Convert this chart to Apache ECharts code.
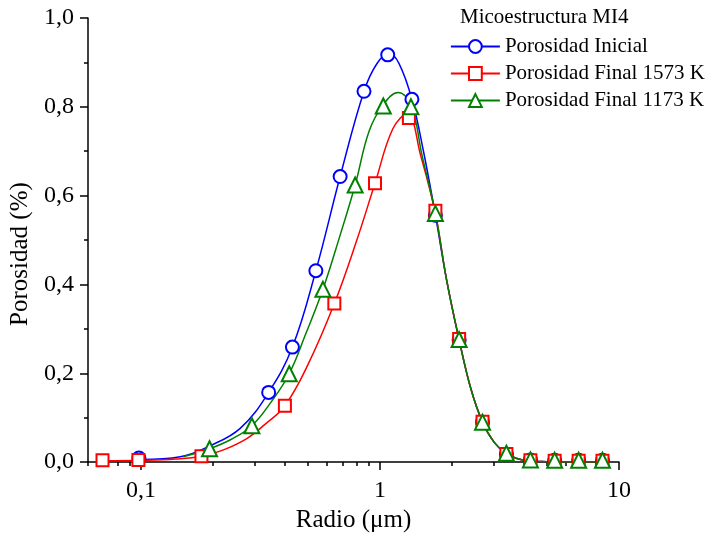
<!DOCTYPE html>
<html>
<head>
<meta charset="utf-8">
<script src="https://cdn.jsdelivr.net/npm/echarts@6/dist/echarts.min.js"></script>
<style>html,body{margin:0;padding:0;background:#fff;}#c{width:718px;height:538px;}</style>
</head>
<body>
<div id="c"></div>
<script>
// ---- data ----
const seriesNames = ['Porosidad Inicial', 'Porosidad Final 1573 K', 'Porosidad Final 1173 K'];
const legendTitle = 'Micoestructura MI4';

// measured points (markers)
const inicialX = [0.098, 0.342, 0.430, 0.539, 0.681, 0.857, 1.077, 1.36, 1.705, 2.143, 2.685, 3.38, 4.26, 5.38, 6.78, 8.53];
const inicialY = [0.009, 0.157, 0.259, 0.431, 0.643, 0.835, 0.917, 0.817, 0.556, 0.275, 0.090, 0.017, 0.005, 0.004, 0.004, 0.004];
const final1573X = [0.069, 0.0975, 0.179, 0.400, 0.644, 0.953, 1.321, 1.705, 2.143, 2.685, 3.38, 4.26, 5.38, 6.78, 8.53];
const final1573Y = [0.004, 0.005, 0.013, 0.127, 0.357, 0.628, 0.775, 0.566, 0.277, 0.091, 0.018, 0.004, 0.003, 0.003, 0.003];
const final1173X = [0.1935, 0.291, 0.417, 0.577, 0.787, 1.032, 1.347, 1.705, 2.143, 2.685, 3.38, 4.26, 5.38, 6.78, 8.53];
const final1173Y = [0.030, 0.082, 0.199, 0.389, 0.624, 0.802, 0.800, 0.560, 0.276, 0.090, 0.020, 0.005, 0.004, 0.004, 0.004];

// fitted curves
const inicialFitX = [0.1, 0.146, 0.193, 0.26, 0.342, 0.43, 0.539, 0.681, 0.857, 0.97, 1.09, 1.2, 1.36, 1.52, 1.705, 1.9, 2.143, 2.4, 2.685, 3.0, 3.38, 3.8, 4.3, 5.0, 6.0, 8.7];
const inicialFitY = [0.006, 0.012, 0.036, 0.076, 0.157, 0.259, 0.431, 0.643, 0.835, 0.897, 0.920, 0.898, 0.817, 0.700, 0.556, 0.410, 0.275, 0.165, 0.090, 0.045, 0.018, 0.007, 0.002, 0.001, 0, 0];
const final1573FitX = [0.069, 0.1, 0.14, 0.179, 0.22, 0.277, 0.33, 0.4, 0.5, 0.644, 0.8, 0.953, 1.13, 1.30, 1.48, 1.705, 1.9, 2.143, 2.4, 2.685, 3.0, 3.38, 3.8, 4.3, 5.0, 6.0, 8.7];
const final1573FitY = [0.003, 0.004, 0.007, 0.013, 0.027, 0.053, 0.085, 0.127, 0.220, 0.357, 0.500, 0.628, 0.750, 0.785, 0.690, 0.560, 0.410, 0.276, 0.165, 0.090, 0.045, 0.019, 0.007, 0.002, 0.001, 0, 0];
const final1173FitX = [0.15, 0.1935, 0.24, 0.291, 0.35, 0.417, 0.49, 0.577, 0.68, 0.787, 0.9, 1.032, 1.19, 1.347, 1.5, 1.705, 1.9, 2.143, 2.4, 2.685, 3.0, 3.38, 3.8, 4.3, 5.0, 6.0, 8.7];
const final1173FitY = [0.012, 0.030, 0.052, 0.082, 0.135, 0.199, 0.290, 0.389, 0.510, 0.624, 0.745, 0.805, 0.832, 0.805, 0.690, 0.560, 0.410, 0.276, 0.165, 0.090, 0.045, 0.020, 0.007, 0.002, 0.001, 0, 0];

// axis ticks
const xMajorTicks = [0.1, 1, 10];
const xMinorTicks = [0.06, 0.07, 0.08, 0.09, 0.2, 0.3, 0.4, 0.5, 0.6, 0.7, 0.8, 0.9, 2, 3, 4, 5, 6, 7, 8, 9];

const colors = ['#0000ff', '#ff0000', '#008000'];
const symbols = ['emptyCircle', 'emptyRect', 'emptyTriangle'];
const symbolSizes = [13, 12, 15];

const FONT = '"Liberation Serif", "Times New Roman", serif';
const zip = (xs, ys) => xs.map((x, i) => [x, ys[i]]);
const comma = v => String(v).replace('.', ',');

const fits = [[inicialFitX, inicialFitY], [final1573FitX, final1573FitY], [final1173FitX, final1173FitY]];
const pts = [[inicialX, inicialY], [final1573X, final1573Y], [final1173X, final1173Y]];

const series = [];
fits.forEach((f, i) => {
  series.push({
    name: seriesNames[i] + ' ajuste',
    type: 'line', data: zip(f[0], f[1]), smooth: 0.4, symbol: 'none', silent: true,
    lineStyle: { color: colors[i], width: 1.5 }, z: 2 + i
  });
});
pts.forEach((p, i) => {
  series.push({
    name: seriesNames[i],
    type: 'line', data: zip(p[0], p[1]), symbol: symbols[i], symbolSize: symbolSizes[i],
    itemStyle: { color: colors[i], borderColor: colors[i], borderWidth: 2 },
    lineStyle: { width: 0, color: colors[i] }, z: 10 + i
  });
});

const chart = echarts.init(document.getElementById('c'));
chart.setOption({
  animation: false,
  backgroundColor: '#fff',
  textStyle: { fontFamily: FONT },
  title: {
    text: legendTitle, left: 455, top: 2,
    textStyle: { fontFamily: FONT, fontSize: 21, fontWeight: 'normal', color: '#000' }
  },
  legend: {
    orient: 'vertical', left: 445, top: 31, itemWidth: 49, itemHeight: 16, itemGap: 6,
    textStyle: { fontFamily: FONT, fontSize: 21, color: '#000' },
    data: seriesNames.map((n, i) => ({ name: n, lineStyle: { width: 1.8, color: colors[i], opacity: 1 } }))
  },
  grid: { left: 88, right: 99, top: 18, bottom: 71, containLabel: false },
  xAxis: [{
    type: 'log', logBase: 10, min: 0.06, max: 10,
    name: 'Radio (\u03bcm)', nameLocation: 'middle', nameGap: 43,
    nameTextStyle: { fontFamily: FONT, fontSize: 25, color: '#000' },
    axisLine: { show: true, lineStyle: { color: '#000', width: 1.5 } },
    axisTick: { show: true, inside: false, length: 8, customValues: xMajorTicks, lineStyle: { color: '#000', width: 1.5 } },
    axisLabel: { customValues: xMajorTicks, margin: 17, fontFamily: FONT, fontSize: 24, color: '#000', formatter: v => comma(v) },
    splitLine: { show: false }, minorTick: { show: false }
  }, {
    type: 'log', logBase: 10, min: 0.06, max: 10, position: 'bottom',
    axisLine: { show: false },
    axisTick: { show: true, inside: false, length: 4, customValues: xMinorTicks, lineStyle: { color: '#000', width: 1.5 } },
    axisLabel: { show: false }, splitLine: { show: false }
  }],
  yAxis: {
    type: 'value', min: 0, max: 1, interval: 0.2,
    name: 'Porosidad (%)', nameLocation: 'middle', nameGap: 48,
    nameTextStyle: { fontFamily: FONT, fontSize: 25, color: '#000', padding: [0, 28, 0, 0] },
    axisLine: { show: true, lineStyle: { color: '#000', width: 1.5 } },
    axisTick: { show: true, inside: false, length: 8, lineStyle: { color: '#000', width: 1.5 } },
    minorTick: { show: true, splitNumber: 2, length: 4, lineStyle: { color: '#000', width: 1.5 } },
    axisLabel: { margin: 14, fontFamily: FONT, fontSize: 24, color: '#000', formatter: v => v.toFixed(1).replace('.', ',') },
    splitLine: { show: false }
  },
  series: series
});
</script>
</body>
</html>
